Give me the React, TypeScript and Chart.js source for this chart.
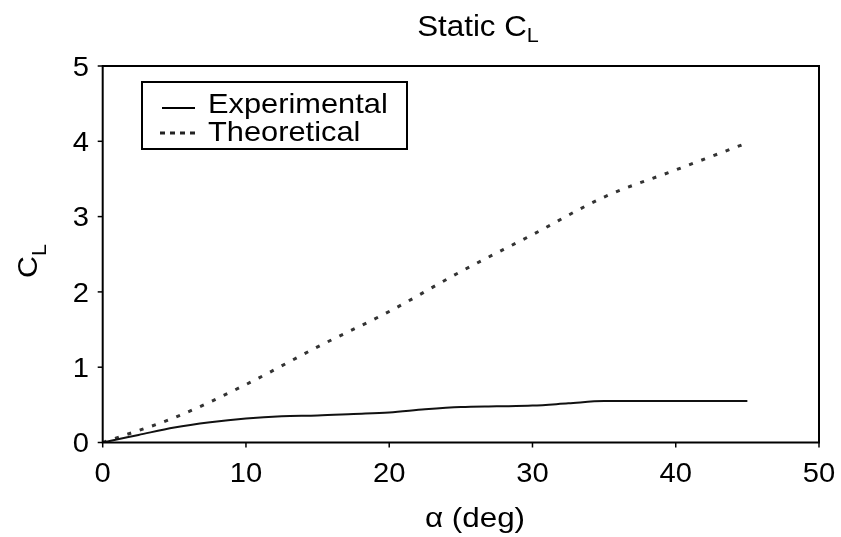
import React, { useEffect, useRef } from "react";
import { Chart, registerables } from "chart.js";

Chart.register(...registerables);

const alphaExp = [0, 2.5, 5, 7.5, 10, 12.5, 15, 17.5, 20, 22.5, 25, 27.5, 30, 32.5, 35, 37.5, 40, 42.5, 45];
const clExp = [0, 0.1, 0.2, 0.27, 0.32, 0.35, 0.36, 0.38, 0.4, 0.44, 0.47, 0.48, 0.49, 0.52, 0.55, 0.55, 0.55, 0.55, 0.55];

const alphaTheo = [0, 5, 10, 15, 20, 25, 30, 35, 40, 45];
const clTheo = [0, 0.33, 0.77, 1.27, 1.74, 2.27, 2.76, 3.26, 3.62, 3.98];

const xTicks = [0, 10, 20, 30, 40, 50];
const yTicks = [0, 1, 2, 3, 4, 5];

const titleText = "Static C";
const titleSub = "L";
const yTitleMain = "C";
const yTitleSub = "L";
const xTitle = "\u03b1 (deg)";
const legendLabels = ["Experimental", "Theoretical"];

const FONT = "'Liberation Sans', Arial, Helvetica, sans-serif";
const SX = 1.08;

function txt(
  ctx: CanvasRenderingContext2D,
  s: string,
  x: number,
  y: number,
  size: number,
  align: CanvasTextAlign,
  sx = SX
) {
  ctx.save();
  ctx.translate(x, y);
  ctx.scale(sx, 1);
  ctx.font = `${size}px ${FONT}`;
  ctx.textAlign = align;
  ctx.textBaseline = "alphabetic";
  ctx.fillText(s, 0, 0);
  ctx.restore();
}

function width(ctx: CanvasRenderingContext2D, s: string, size: number, sx = SX) {
  ctx.save();
  ctx.font = `${size}px ${FONT}`;
  const w = ctx.measureText(s).width * sx;
  ctx.restore();
  return w;
}

const overlay = {
  id: "overlay",
  afterDraw(chart: any) {
    const ctx = chart.ctx as CanvasRenderingContext2D;
    const a = chart.chartArea;
    const xs = chart.scales.x;
    const ys = chart.scales.y;
    ctx.save();
    ctx.strokeStyle = "#000";
    ctx.fillStyle = "#000";
    ctx.lineWidth = 2;
    // frame
    ctx.strokeRect(a.left, a.top, a.right - a.left, a.bottom - a.top);

    // x ticks
    ctx.lineWidth = 1.5;
    for (const v of xTicks) {
      const px = xs.getPixelForValue(v);
      ctx.beginPath();
      ctx.moveTo(px, a.bottom);
      ctx.lineTo(px, a.bottom + 5);
      ctx.stroke();
      txt(ctx, String(v), px, 482, 27, "center");
    }
    // y ticks
    for (const v of yTicks) {
      const py = ys.getPixelForValue(v);
      ctx.beginPath();
      ctx.moveTo(a.left - 5, py);
      ctx.lineTo(a.left, py);
      ctx.stroke();
      txt(ctx, String(v), 89, py + 9.7, 27, "right");
    }

    // title
    const tw = width(ctx, titleText, 29);
    const sw = width(ctx, titleSub, 20);
    const startX = 478 - (tw + sw) / 2;
    txt(ctx, titleText, startX, 36, 29, "left");
    txt(ctx, titleSub, startX + tw, 42, 20, "left");

    // x title
    txt(ctx, xTitle, 475, 527, 28, "center", 1.12);

    // y title rotated
    ctx.save();
    ctx.translate(37, 261);
    ctx.rotate(-Math.PI / 2);
    const cw = width(ctx, yTitleMain, 28);
    const lw = width(ctx, yTitleSub, 20);
    const s0 = -(cw + lw) / 2;
    txt(ctx, yTitleMain, s0, 0, 28, "left");
    txt(ctx, yTitleSub, s0 + cw, 9, 20, "left");
    ctx.restore();

    // legend
    ctx.lineWidth = 2;
    ctx.strokeStyle = "#000";
    ctx.strokeRect(142, 82, 265, 67);
    ctx.lineWidth = 1.8;
    ctx.beginPath();
    ctx.moveTo(162, 108);
    ctx.lineTo(195, 108);
    ctx.stroke();
    txt(ctx, legendLabels[0], 208, 113, 28, "left", 1.1);
    ctx.setLineDash([5, 5]);
    ctx.lineWidth = 3;
    ctx.strokeStyle = "#222";
    ctx.beginPath();
    ctx.moveTo(160, 133);
    ctx.lineTo(195, 133);
    ctx.stroke();
    ctx.setLineDash([]);
    txt(ctx, legendLabels[1], 208, 141, 28, "left", 1.1);
    ctx.restore();
  },
};

export default function App() {
  const ref = useRef<HTMLCanvasElement>(null);
  useEffect(() => {
    if (!ref.current) return;
    const chart = new Chart(ref.current, {
      type: "scatter",
      data: {
        datasets: [
          {
            label: legendLabels[0],
            data: alphaExp.map((x, i) => ({ x, y: clExp[i] })),
            showLine: true,
            borderColor: "#111",
            borderWidth: 2,
            pointRadius: 0,
            cubicInterpolationMode: "monotone",
          },
          {
            label: legendLabels[1],
            data: alphaTheo.map((x, i) => ({ x, y: clTheo[i] })),
            showLine: true,
            borderColor: "#333",
            borderWidth: 3,
            borderDash: [4, 9],
            pointRadius: 0,
            cubicInterpolationMode: "monotone",
          },
        ],
      },
      options: {
        animation: false,
        responsive: false,
        maintainAspectRatio: false,
        layout: { padding: { top: 66, right: 22, left: 0, bottom: 0 } },
        plugins: { legend: { display: false }, tooltip: { enabled: false }, title: { display: false } },
        scales: {
          x: {
            type: "linear",
            min: 0,
            max: 50,
            afterFit: (s: any) => {
              s.height = 94.5;
            },
            grid: { display: false },
            border: { display: false },
            ticks: { display: false },
          },
          y: {
            type: "linear",
            min: 0,
            max: 5,
            afterFit: (s: any) => {
              s.width = 102.7;
            },
            grid: { display: false },
            border: { display: false },
            ticks: { display: false },
          },
        },
      },
      plugins: [overlay],
    } as any);
    return () => chart.destroy();
  }, []);
  return (
    <div style={{ position: "fixed", left: 0, top: 0, width: 841, height: 537, background: "#fff" }}>
      <canvas ref={ref} width={841} height={537} style={{ width: 841, height: 537, display: "block" }} />
    </div>
  );
}
